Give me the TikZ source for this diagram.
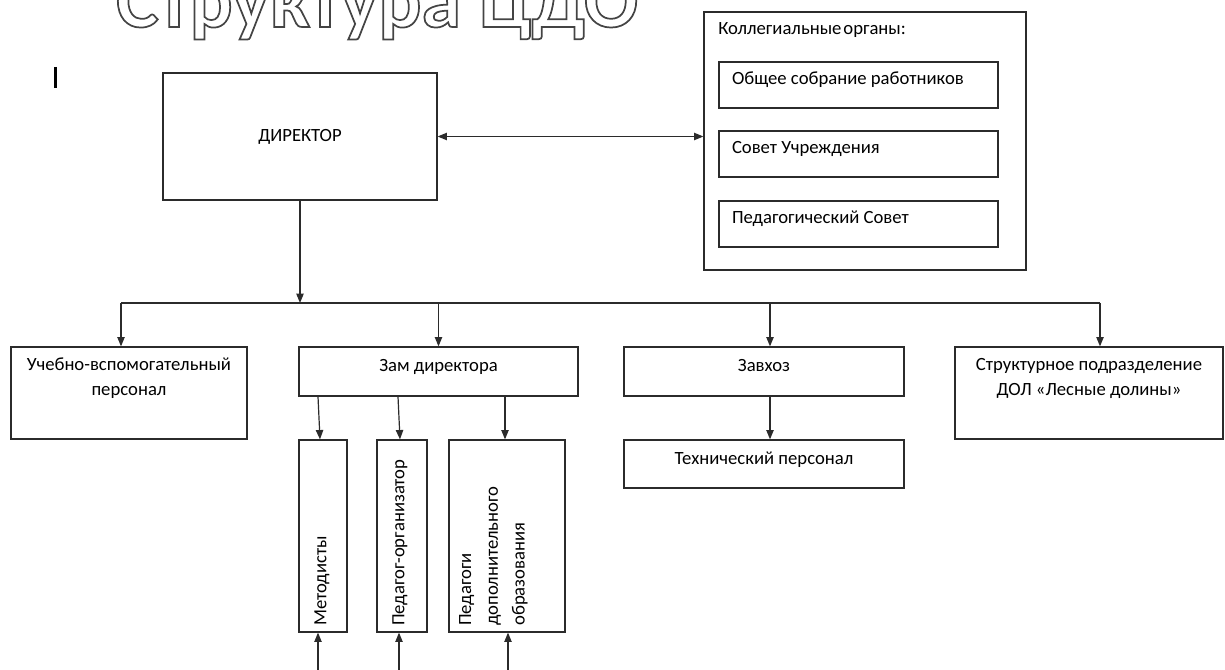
\documentclass[tikz,border=0pt]{standalone}
\usepackage{fontspec}
\setmainfont{Carlito}
\usetikzlibrary{arrows.meta,calc}
\definecolor{ln}{HTML}{2B2B2B}
\definecolor{tl}{HTML}{444444}
\begin{document}
\begin{tikzpicture}[x=0.75pt,y=-0.75pt,
  txt/.style={font=\fontsize{14}{18.75}\selectfont},
  box/.style={draw=ln, line width=0.9pt, inner sep=0pt, txt, align=center},
  mid/.style={text height=10pt, text depth=10pt},
  obox/.style={box, text width=189.75pt, inner xsep=9.75pt, align=flush left, minimum height=34.5pt, mid},
  lbl/.style={txt, inner sep=0pt},
  arr/.style={draw=ln, line width=0.9pt, -{Triangle[length=7pt,width=5.5pt]}},
  dbl/.style={draw=ln, line width=0.9pt, {Triangle[length=7pt,width=5.5pt]}-{Triangle[length=7pt,width=5.5pt]}},
  bus/.style={draw=ln, line width=0.9pt}]
\useasboundingbox (0,0) rectangle (1225,670);
\clip (0,0) rectangle (1225,670);

% title (outlined)
\node[anchor=base, inner sep=0pt, text=tl, font=\fontsize{60}{62}\bfseries\selectfont] (title) at (377,27)
  {\special{pdf:literal direct 1 Tr 1.3 w}Структура ЦДО\special{pdf:literal direct 0 Tr}};

% cursor mark
\draw[line width=1.6pt] (55.5,67) -- (55.5,88);

% director
\node[box, minimum width=205.5pt, minimum height=95.25pt] (dir) at (300,136.5) {ДИРЕКТОР};

% collegial bodies
\node[box, minimum width=241.5pt, minimum height=193.5pt] (col) at (865,141) {};
\node[lbl, anchor=west] (coltitle) at (718,30) {Коллегиальные\hspace{1.5pt}органы:};
\node[obox] (ob1) at (858.5,85) {Общее собрание работников};
\node[obox] (ob2) at (858.5,154) {Совет Учреждения};
\node[obox] (ob3) at (858.5,224) {Педагогический Совет};

% second level
\node[box, minimum width=177pt, minimum height=69pt] (uch) at (129,393) {Учебно-вспомогательный\\персонал\\\strut};
\node[box, mid, minimum width=209.25pt, minimum height=36.75pt] (zam) at (438.5,371.5) {Зам директора};
\node[box, mid, minimum width=210pt, minimum height=36.75pt] (zav) at (764,371.5) {Завхоз};
\node[box, minimum width=201pt, minimum height=69pt] (str) at (1089,393) {Структурное подразделение\\ДОЛ «Лесные долины»\\\strut};

% third level
\node[box, mid, minimum width=210pt, minimum height=36pt] (tech) at (764,464) {Технический персонал};
\node[box, minimum width=36pt, minimum height=144pt] (met) at (323,536) {};
\node[box, minimum width=37.5pt, minimum height=144pt] (ped) at (402,536) {};
\node[box, minimum width=87pt, minimum height=144pt] (pdo) at (507,536) {};
\node[lbl, rotate=90, anchor=west] (mett) at (322,626) {Методисты};
\node[lbl, rotate=90, anchor=west] (pedt) at (400,626) {Педагог-организатор};
\node[lbl, rotate=90, anchor=north west, align=left, font=\fontsize{14}{20}\selectfont] (pdot) at (459,626)
  {Педагоги\\дополнительного\\образования};

% connectors
\draw[dbl] (dir.east) -- (dir.east -| col.west);
\coordinate (b1) at (121,303);
\coordinate (b3) at (770,303);
\coordinate (b4) at (1100,303);
\draw[bus] (b1) -- (b4);
\draw[arr] (dir.south) -- (dir.south |- b1);
\draw[arr] (b1) -- (b1 |- uch.north);
\draw[arr] (zam.north |- b1) -- (zam.north);
\draw[arr] (b3) -- (b3 |- zav.north);
\draw[arr] (b4) -- (b4 |- str.north);
\draw[arr] (b3 |- zav.south) -- (b3 |- tech.north);
\draw[arr] ($(met.north |- zam.south)+(-5,0)$) -- ($(met.north)+(-3,0)$);
\draw[arr] ($(ped.north |- zam.south)+(-4,0)$) -- ($(ped.north)+(-2,0)$);
\draw[arr] ($(pdo.north |- zam.south)+(-2,0)$) -- ($(pdo.north)+(-2,0)$);
\coordinate (e1) at (318,675);
\coordinate (e2) at (399,675);
\coordinate (e3) at (508,675);
\draw[arr] (e1) -- (e1 |- met.south);
\draw[arr] (e2) -- (e2 |- ped.south);
\draw[arr] (e3) -- (e3 |- pdo.south);
\end{tikzpicture}
\end{document}
